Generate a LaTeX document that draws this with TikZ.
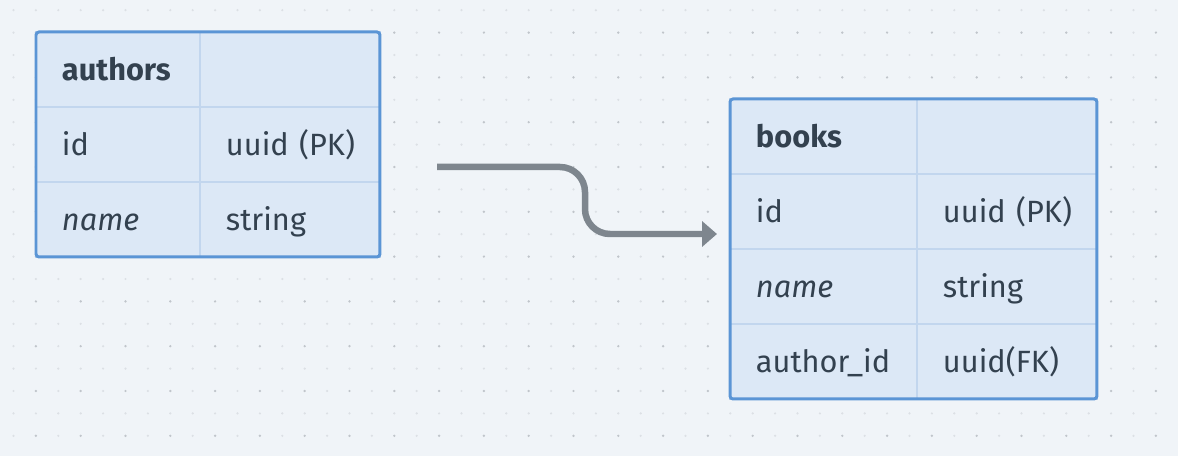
\documentclass[tikz,border=0pt]{standalone}
\usepackage{fontspec}
\setmainfont{Fira Sans}
\usepackage{xcolor}
\usetikzlibrary{positioning, arrows.meta, fit}

\definecolor{canvas}{HTML}{F0F4F8}
\definecolor{dotlight}{HTML}{DCE0E5}
\definecolor{dotdark}{HTML}{C0C5CB}
\definecolor{tablefill}{HTML}{DCE8F6}
\definecolor{gridline}{HTML}{C2D6EE}
\definecolor{tableframe}{HTML}{5B95D5}
\definecolor{ink}{HTML}{33414F}
\definecolor{linkgray}{HTML}{7E868E}

\begin{document}
\begin{tikzpicture}
    [x=0.02cm, y=-0.02cm,
     cell/.style={rectangle,draw=gridline,line width=0.04cm,fill=tablefill,
       anchor=north west,outer sep=0pt,minimum height=1.5cm,inner xsep=0.52cm,
       text width=#1,align=left,text height=13pt,text depth=0pt,
       text=ink,font=\fontsize{17.5}{21}\selectfont},
     frame/.style={draw=tableframe,line width=0.06cm,rounded corners=0.06cm,inner sep=0pt},
     link/.style={draw=linkgray,line width=0.13cm,rounded corners=0.5cm,
       -{Triangle[length=0.3cm,width=0.5cm]}}]
    % canvas with dot grid
    \fill[canvas] (0,0) rectangle (1178,456);
    \useasboundingbox (0,0) rectangle (1178,456);
    \foreach \i in {0,...,51}
      \foreach \j in {0,...,19}
        \fill[dotlight] ({13.5+22.4*\i},{10.2+22.4*\j}) circle (0.7pt);
    \foreach \i in {1,3,...,51}
      \foreach \j in {1,3,...,19}
        \fill[dotdark] ({13.5+22.4*\i},{10.2+22.4*\j}) circle (0.7pt);

    % authors
    \node (au11) at (36,32) [cell=2.24cm] {\textbf{authors}};
    \node (au12) at (200,32) [cell=2.56cm] {};
    \node (au21) at (36,107) [cell=2.24cm] {id};
    \node (au22) at (200,107) [cell=2.56cm] {uuid~(PK)};
    \node (au31) at (36,182) [cell=2.24cm] {\textit{name}};
    \node (au32) at (200,182) [cell=2.56cm] {string};
    \node (authors) [frame, fit=(au11)(au32)] {};

    % books
    \node (bk11) at (730,99) [cell=2.7cm] {\textbf{books}};
    \node (bk12) at (917,99) [cell=2.56cm] {};
    \node (bk21) at (730,174) [cell=2.7cm] {id};
    \node (bk22) at (917,174) [cell=2.56cm] {uuid~(PK)};
    \node (bk31) at (730,249) [cell=2.7cm] {\textit{name}};
    \node (bk32) at (917,249) [cell=2.56cm] {string};
    \node (bk41) at (730,324) [cell=2.7cm] {author\_id};
    \node (bk42) at (917,324) [cell=2.56cm] {uuid(FK)};
    \node (books) [frame, fit=(bk11)(bk42)] {};

    % relation
    \coordinate (relstart) at (437,167);
    \coordinate (relbend) at (585,234);
    \coordinate (relend) at (717,234);
    \draw[link] (relstart) -| (relbend) -- (relend);
\end{tikzpicture}
\end{document}
